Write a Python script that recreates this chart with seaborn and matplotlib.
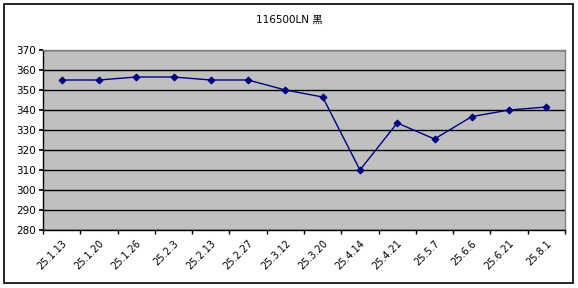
import matplotlib
matplotlib.use("Agg")
import matplotlib.pyplot as plt
import matplotlib.patches as mpatches
import matplotlib.transforms as mtransforms
import seaborn as sns
import numpy as np
import pandas as pd

dates = ["25.1.13", "25.1.20", "25.1.26", "25.2.3", "25.2.13", "25.2.27", "25.3.12",
         "25.3.20", "25.4.14", "25.4.21", "25.5.7", "25.6.6", "25.6.21", "25.8.1"]
prices = [355, 355, 356.5, 356.5, 355, 355, 350, 346.5, 310, 333.5, 325.5, 336.7, 340, 341.5]
title = "116500LN 黑"
yticks = [280, 290, 300, 310, 320, 330, 340, 350, 360, 370]

sns.set_theme(style="white")
plt.rcParams['font.family'] = ['DejaVu Sans', 'Noto Sans CJK SC']

df = pd.DataFrame({"pos": np.arange(len(dates)), "price": prices})

W, H = 578, 288
fig = plt.figure(figsize=(W / 100, H / 100), dpi=100)
fig.patch.set_facecolor("white")
fig.patches.append(mpatches.Rectangle((4 / W, 5 / H), 569 / W, 279 / H, transform=fig.transFigure,
                                      fill=False, edgecolor="black", linewidth=1.2))

ax = fig.add_axes([43 / W, 58 / H, 522 / W, 180 / H])
ax.set_facecolor("#C0C0C0")
sns.lineplot(data=df, x="pos", y="price", ax=ax, color="#000080", linewidth=1,
             marker="D", markersize=3.5, markeredgecolor="#000080")

ax.set_xlim(-0.5, len(dates) - 0.5)
ax.set_ylim(280, 370)
ax.set_yticks(yticks)
ax.set_yticklabels([str(v) for v in yticks], fontsize=7.5, color="black")
ax.yaxis.grid(True, color="black", linewidth=1)
ax.xaxis.grid(False)
ax.set_axisbelow(True)

ax.set_xticks(np.arange(len(dates)))
ax.set_xticklabels(dates, rotation=45, ha="right", va="top", fontsize=7,
                   rotation_mode="anchor", color="black")
offset = mtransforms.ScaledTranslation(-6 / 100, -2 / 100, fig.dpi_scale_trans)
for lbl in ax.get_xticklabels():
    lbl.set_transform(lbl.get_transform() + offset)
ax.set_xticks(np.arange(len(dates) + 1) - 0.5, minor=True)
ax.tick_params(axis="x", which="major", length=0, pad=6)
ax.tick_params(axis="x", which="minor", length=3, color="black", direction="out", bottom=True)
ax.tick_params(axis="y", length=3, color="black", direction="out", left=True, pad=2)
ax.set_xlabel("")
ax.set_ylabel("")

for s in ["left", "bottom"]:
    ax.spines[s].set_color("black")
    ax.spines[s].set_linewidth(1)
for s in ["top", "right"]:
    ax.spines[s].set_color("#808080")
    ax.spines[s].set_linewidth(1)

fig.text(0.5, 1 - 20 / H, title, ha="center", va="center", fontsize=7.5, color="black")

fig.savefig("out.png", dpi=100)
